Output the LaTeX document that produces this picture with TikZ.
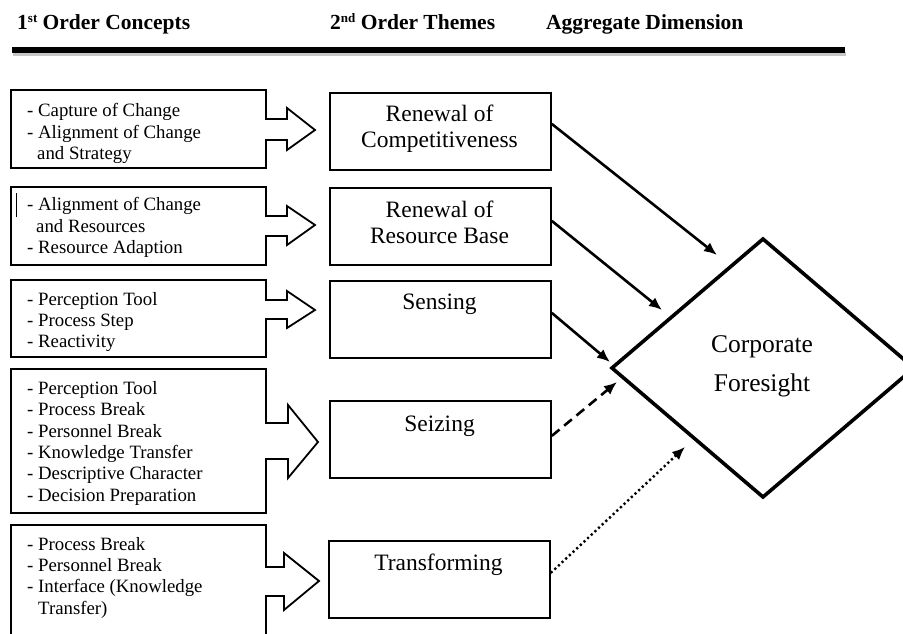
\documentclass[tikz,border=0pt]{standalone}
\usepackage{fontspec}
\setmainfont{Liberation Serif}
\usetikzlibrary{arrows.meta}
\begin{document}
\begin{tikzpicture}[x=1pt,y=-1pt,
  outl/.style={draw=black,line width=1.8pt,line join=miter},
  lefttxt/.style={anchor=north west,inner sep=0pt,align=left,font=\fontsize{18.8}{21.3}\selectfont},
  midbox/.style={draw,line width=1.8pt,anchor=north west,minimum width=221pt,minimum height=77pt,inner sep=0pt},
  midtxt/.style={anchor=north,inner sep=0pt,align=center,font=\fontsize{23.5}{26.5}\selectfont},
  cftxt/.style={anchor=north,inner sep=0pt,align=center,font=\fontsize{25.5}{39}\selectfont},
  hdr/.style={anchor=base west,inner sep=0pt,font=\fontsize{21.5}{24}\selectfont\bfseries},
  conn/.style={line width=2.6pt,-{Latex[length=13pt,width=11pt]}},
  dashconn/.style={conn,dash pattern=on 10pt off 6pt},
  dotconn/.style={line width=2.4pt,dash pattern=on 2.2pt off 2.8pt,-{Latex[length=13pt,width=11pt]}},
]
\useasboundingbox (0,0) rectangle (903,634);
\clip (0,0) rectangle (903,634);

% header
\node[hdr] (h1) at (17,29.5) {1{\fontsize{13}{14}\selectfont\raisebox{6.5pt}{st}} Order Concepts};
\node[hdr] (h2) at (330,29.5) {2{\fontsize{13}{14}\selectfont\raisebox{6.5pt}{nd}} Order Themes};
\node[hdr] (h3) at (546,29.5) {Aggregate Dimension};
\fill[gray!45] (13,52) rectangle (846,56.5);
\fill[black] (12,47.5) rectangle (845,53);

% first order boxes with block arrows
\draw[outl] (11,90) -- (266,90) -- (266,119) -- (287,119) -- (287,108) -- (315,130) -- (287,150) -- (287,140) -- (266,140) -- (266,168) -- (11,168) -- cycle;
\draw[outl] (11,187) -- (266,187) -- (266,216) -- (287,216) -- (287,206) -- (315,225) -- (287,245) -- (287,236) -- (266,236) -- (266,265) -- (11,265) -- cycle;
\draw[outl] (11,280) -- (266,280) -- (266,300) -- (287,300) -- (287,291) -- (315,310) -- (287,328) -- (287,319) -- (266,319) -- (266,357) -- (11,357) -- cycle;
\draw[outl] (11,369) -- (266,369) -- (266,423) -- (288,423) -- (288,405) -- (318,442) -- (288,478) -- (288,459) -- (266,459) -- (266,513) -- (11,513) -- cycle;
\draw[outl] (11,645) -- (11,525) -- (266,525) -- (266,567) -- (284,567) -- (284,553) -- (319,581) -- (284,610) -- (284,596) -- (266,596) -- (266,645);
\draw[line width=0.8pt] (16,193) -- (16,217);

\node[lefttxt] (c1) at (27,101.8) {\strut- Capture of Change\\- Alignment of Change\\\hspace*{10pt}and Strategy};
\node[lefttxt] (c2) at (27,195.8) {\strut- Alignment of Change\\\hspace*{9pt}and Resources\\- Resource Adaption};
\node[lefttxt] (c3) at (27,290.1) {\strut- Perception Tool\\- Process Step\\- Reactivity};
\node[lefttxt] (c4) at (27,379.4) {\strut- Perception Tool\\- Process Break\\- Personnel Break\\- Knowledge Transfer\\- Descriptive Character\\- Decision Preparation};
\node[lefttxt] (c5) at (27,535.1) {\strut- Process Break\\- Personnel Break\\- Interface (Knowledge\\\hspace*{11pt}Transfer)};

% second order boxes
\node[midbox] (m1) at (329,92) {};
\node[midbox] (m2) at (329,187) {};
\node[midbox] (m3) at (329,280) {};
\node[midbox] (m4) at (329,400) {};
\node[midbox] (m5) at (328,540) {};
\node[midtxt] (t1) at (439.5,102.6) {\strut Renewal of\\Competitiveness};
\node[midtxt] (t2) at (439.5,198.4) {\strut Renewal of\\Resource Base};
\node[midtxt] (t3) at (439.5,291.1) {\strut Sensing};
\node[midtxt] (t4) at (439.5,412.8) {\strut Seizing};
\node[midtxt] (t5) at (438.5,551.8) {\strut Transforming};

% aggregate dimension
\draw[line width=3.6pt,line join=miter] (612,368) -- (763,239) -- (914,368) -- (763,497) -- cycle;
\node[cftxt] (cf) at (762,325.4) {\strut Corporate\\Foresight};

% connectors
\coordinate (e1) at (717,255);
\coordinate (e2) at (662,310);
\coordinate (e3) at (610,362);
\coordinate (e4) at (617,382);
\coordinate (e5) at (685,447);
\draw[conn] ([yshift=7.5pt]m1.east) -- (e1);
\draw[conn] ([yshift=5.5pt]m2.east) -- (e2);
\draw[conn] ([yshift=6.5pt]m3.east) -- (e3);
\draw[dashconn] ([yshift=3.5pt]m4.east) -- (e4);
\draw[dotconn] ([yshift=6.5pt]m5.east) -- (e5);
\end{tikzpicture}
\end{document}
